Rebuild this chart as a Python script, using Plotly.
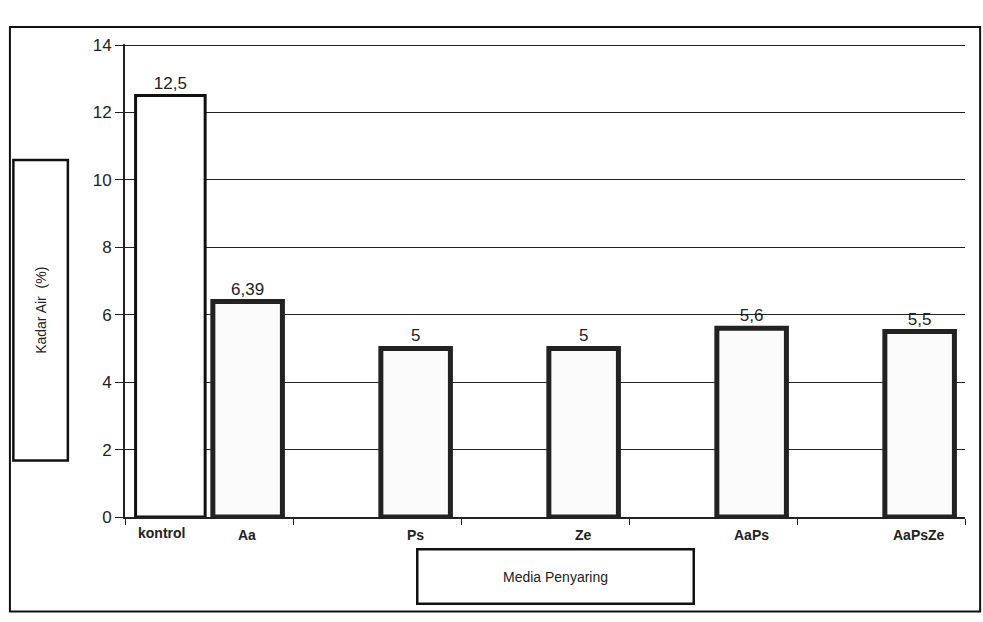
import plotly.graph_objects as go

# Filter media groups and measured water content (%)
media = ["Aa", "Ps", "Ze", "AaPs", "AaPsZe"]
kontrol_vals = [12.5, None, None, None, None]
media_vals = [6.39, 5, 5, 5.6, 5.5]
y_ticks = [0, 2, 4, 6, 8, 10, 12, 14]


def comma(v):
    return "" if v is None else str(v).replace(".", ",")


fig = go.Figure()
fig.add_trace(go.Bar(
    x=media, y=kontrol_vals, name="kontrol",
    text=[comma(v) for v in kontrol_vals], textposition="outside",
    textfont=dict(size=17, color="#222"),
    marker=dict(color="white", line=dict(color="#111", width=3)),
    cliponaxis=False,
))
fig.add_trace(go.Bar(
    x=media, y=media_vals, name="media",
    text=[comma(v) for v in media_vals], textposition="outside",
    textfont=dict(size=17, color="#222"),
    marker=dict(color="#fbfbfb", line=dict(color="#222", width=5)),
    cliponaxis=False,
))

# category labels under each bar (kontrol sits left in the first group)
half = 38
lab_font = dict(size=14, color="#222", family="Liberation Sans Narrow, Liberation Sans, Arial")
fig.add_annotation(x=media[0], y=0, xref="x", yref="y", yanchor="top",
                   text="<b>kontrol</b>", showarrow=False, xshift=-half - 10, yshift=-6,
                   font=lab_font)
for m in media:
    fig.add_annotation(x=m, y=0, xref="x", yref="y", yanchor="top",
                       text="<b>" + m + "</b>", showarrow=False, xshift=half, yshift=-8,
                       font=lab_font)

# boxed axis titles
fig.add_annotation(x=-0.134, y=0.438, xref="paper", yref="paper",
                   text="Kadar Air  (%)", textangle=-90, showarrow=False,
                   width=296, height=50, bordercolor="#111", borderwidth=2.5,
                   bgcolor="white", font=dict(size=14, color="#222"))
fig.add_annotation(x=0.513, y=-0.186, xref="paper", yref="paper",
                   text="Media Penyaring", showarrow=False,
                   width=272, height=50, bordercolor="#111", borderwidth=2.5,
                   bgcolor="white", font=dict(size=14, color="#222"))

# outer chart frame
fig.add_shape(type="rect", xref="paper", yref="paper",
              x0=-0.137, x1=1.018, y0=-0.2, y1=1.036,
              line=dict(color="#111", width=2), layer="below")

fig.update_layout(
    width=983, height=622,
    margin=dict(l=125, r=18, t=44, b=105),
    paper_bgcolor="white", plot_bgcolor="white",
    barmode="group", bargap=0.08, bargroupgap=0.1,
    showlegend=False,
    font=dict(family="Liberation Sans, Arial, sans-serif", color="#222"),
    xaxis=dict(
        type="category", showticklabels=False, ticks="outside",
        tickson="boundaries", ticklen=6, tickcolor="#222",
        showline=True, linecolor="#222", linewidth=1.5,
        showgrid=False, range=[-0.5, 4.5],
    ),
    yaxis=dict(
        range=[0, 14.03], tickvals=y_ticks, ticks="outside", ticklen=8,
        tickcolor="#222", showline=True, linecolor="#222", linewidth=2,
        showgrid=True, gridcolor="#222", gridwidth=1.2,
        tickfont=dict(size=17, color="#222"), zeroline=False,
    ),
)

fig.write_html("out.html")
